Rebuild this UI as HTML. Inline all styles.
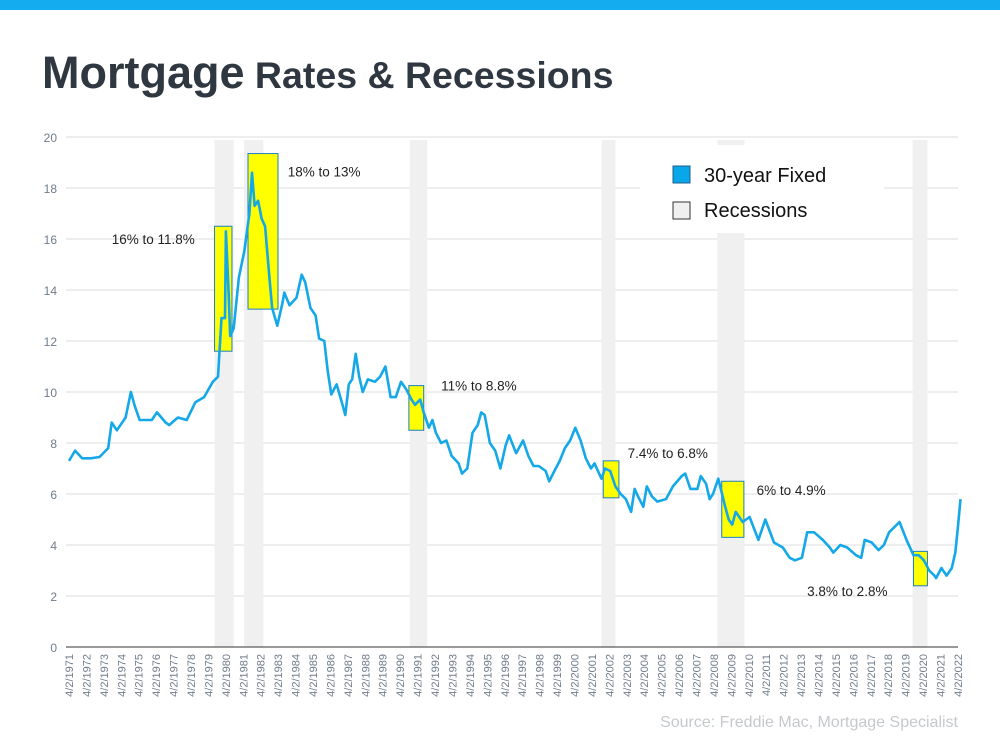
<!DOCTYPE html>
<html><head><meta charset="utf-8"><style>
body{margin:0;background:#fff;}
svg{display:block;font-family:"Liberation Sans",Arial,sans-serif;}
</style></head><body>
<svg width="1000" height="750" viewBox="0 0 1000 750">
<rect x="0" y="0" width="1000" height="10" fill="#14acee"/>
<text x="42" y="88" fill="#2f3741" font-weight="bold"><tspan font-size="45">Mortgage</tspan><tspan font-size="37.5"> Rates &amp; Recessions</tspan></text>
<g id="grid"></g><g id="bands"></g><g id="boxes"></g><g id="line"></g><g id="axes"></g><g id="labels"></g>
<g>
<rect x="640" y="145" width="244" height="88" fill="#fff"/>
<rect x="673" y="166" width="17" height="17" fill="#0aa6ea" stroke="#1f5f8a" stroke-width="1"/>
<text x="704" y="182" font-size="20" fill="#111">30-year Fixed</text>
<rect x="673" y="202" width="17" height="17" fill="#f0f0f0" stroke="#333" stroke-width="1"/>
<text x="704" y="217" font-size="20" fill="#111">Recessions</text>
</g>
<text x="958" y="727" font-size="16" fill="#c5c9cd" text-anchor="end">Source: Freddie Mac, Mortgage Specialist</text>
</svg>
<script>
const years=[1971,1972,1973,1974,1975,1976,1977,1978,1979,1980,1981,1982,1983,1984,1985,1986,1987,1988,1989,1990,1991,1992,1993,1994,1995,1996,1997,1998,1999,2000,2001,2002,2003,2004,2005,2006,2007,2008,2009,2010,2011,2012,2013,2014,2015,2016,2017,2018,2019,2020,2021,2022];
const yTicks=[0,2,4,6,8,10,12,14,16,18,20];
const rateT=[1971.25,1971.6,1972,1972.5,1973,1973.5,1973.7,1974,1974.5,1974.8,1975,1975.3,1976,1976.3,1976.8,1977,1977.5,1978,1978.5,1979,1979.5,1979.8,1980.0,1980.2,1980.25,1980.4,1980.5,1980.7,1981,1981.3,1981.6,1981.75,1981.9,1982.1,1982.3,1982.5,1982.75,1982.9,1983.2,1983.5,1983.6,1983.9,1984.3,1984.6,1984.8,1985.1,1985.4,1985.6,1985.9,1986.1,1986.3,1986.6,1986.9,1987.1,1987.3,1987.5,1987.7,1987.9,1988.1,1988.4,1988.8,1989.1,1989.4,1989.7,1990,1990.3,1990.6,1990.9,1991.1,1991.4,1991.6,1991.9,1992.1,1992.3,1992.6,1992.9,1993.2,1993.6,1993.8,1994.1,1994.4,1994.7,1994.9,1995.1,1995.4,1995.7,1996,1996.3,1996.5,1996.9,1997.3,1997.6,1997.9,1998.2,1998.6,1998.8,1999.1,1999.4,1999.7,2000.0,2000.3,2000.6,2000.9,2001.2,2001.4,2001.8,2002.0,2002.3,2002.6,2002.9,2003.2,2003.5,2003.7,2003.9,2004.2,2004.4,2004.7,2005.0,2005.5,2005.9,2006.4,2006.6,2006.9,2007.3,2007.5,2007.8,2008.0,2008.2,2008.5,2008.9,2009.1,2009.3,2009.5,2009.9,2010.3,2010.8,2011.2,2011.7,2012.2,2012.6,2012.9,2013.3,2013.6,2014.0,2014.5,2014.9,2015.1,2015.5,2015.9,2016.4,2016.7,2016.9,2017.3,2017.7,2018.0,2018.3,2018.9,2019.3,2019.7,2020.0,2020.3,2020.6,2020.9,2021.0,2021.3,2021.6,2021.9,2022.1,2022.25,2022.4];
const rateV=[7.3,7.7,7.4,7.4,7.45,7.8,8.8,8.5,9.0,10.0,9.5,8.9,8.9,9.2,8.8,8.7,9.0,8.9,9.6,9.8,10.4,10.6,12.9,12.9,16.3,14,12.2,12.5,14.5,15.5,17,18.6,17.3,17.5,16.8,16.5,14.5,13.3,12.6,13.5,13.9,13.4,13.7,14.6,14.3,13.3,13.0,12.1,12.0,10.8,9.9,10.3,9.6,9.1,10.3,10.5,11.5,10.6,10.0,10.5,10.4,10.6,11.0,9.8,9.8,10.4,10.1,9.7,9.5,9.7,9.2,8.6,8.9,8.4,8.0,8.1,7.5,7.2,6.8,7.0,8.4,8.7,9.2,9.1,8.0,7.7,7.0,7.9,8.3,7.6,8.1,7.5,7.1,7.1,6.9,6.5,6.9,7.3,7.8,8.1,8.6,8.1,7.4,7.0,7.2,6.6,7.0,6.9,6.3,6.0,5.8,5.3,6.2,5.9,5.5,6.3,5.9,5.7,5.8,6.3,6.7,6.8,6.2,6.2,6.7,6.4,5.8,6.0,6.6,5.5,5.0,4.8,5.3,4.9,5.1,4.2,5.0,4.1,3.9,3.5,3.4,3.5,4.5,4.5,4.2,3.9,3.7,4.0,3.9,3.6,3.5,4.2,4.1,3.8,4.0,4.5,4.9,4.2,3.6,3.6,3.4,3.0,2.8,2.7,3.1,2.8,3.1,3.7,4.7,5.8];
const recStart=[1979.6,1981.3,1990.8,2001.8,2008.45,2019.65];
const recEnd=[1980.7,1982.4,1991.8,2002.6,2010.0,2020.5];
const boxX0=[1979.6,1981.52,1990.75,2001.9,2008.7,2019.7];
const boxX1=[1980.6,1983.24,1991.6,2002.8,2009.97,2020.5];
const boxHi=[16.5,19.35,10.25,7.3,6.5,3.75];
const boxLo=[11.6,13.25,8.5,5.85,4.3,2.4];
const boxLabels=["16% to 11.8%","18% to 13%","11% to 8.8%","7.4% to 6.8%","6% to 4.9%","3.8% to 2.8%"];
const labelYr=[1973.7,1983.8,1992.6,2003.3,2010.7,2013.6];
const labelV=[16,18.65,10.25,7.6,6.15,2.2];

const NS="http://www.w3.org/2000/svg";
const X=t=>69+(t-1971.25)*17.43;
const Y=v=>647-v*25.5;
function mk(tag,attrs,parent){const e=document.createElementNS(NS,tag);for(const k in attrs)e.setAttribute(k,attrs[k]);document.getElementById(parent).appendChild(e);return e;}
yTicks.forEach(v=>{
  if(v>0){const g=mk('line',{x1:66,x2:958,y1:Y(v),y2:Y(v),stroke:'#dcdcdc','stroke-width':1},'grid');
  
  }
  const t=mk('text',{x:57,y:Y(v)+5,'font-size':12,fill:'#6f7c8a','text-anchor':'end'},'labels');t.textContent=v;
  
  
});
recStart.forEach((s,i)=>{
  const r=mk('rect',{x:X(s),y:140,width:X(recEnd[i])-X(s),height:507,fill:'#f0f0f0'},'bands');
  
  
});
boxX0.forEach((s,i)=>{
  const r=mk('rect',{x:X(s),y:Y(boxHi[i]),width:X(boxX1[i])-X(s),height:Y(boxLo[i])-Y(boxHi[i]),fill:'#ffff00',stroke:'#1a7fc0','stroke-width':1},'boxes');
  
  
  const t=mk('text',{x:X(labelYr[i]),y:Y(labelV[i])+5,'font-size':13.5,fill:'#222'},'labels');t.textContent=boxLabels[i];
  
  
});
const d=rateT.map((t,i)=>(i?'L':'M')+X(t).toFixed(1)+' '+Y(rateV[i]).toFixed(1)).join(' ');
const p=mk('path',{d:d,fill:'none',stroke:'#14a8e8','stroke-width':2.6,'stroke-linejoin':'round'},'line');


const ax=mk('line',{x1:66,x2:958,y1:647,y2:647,stroke:'#333','stroke-width':1},'axes');


years.forEach(yr=>{
  const x=X(yr+0.25)+4;
  const t=mk('text',{x:0,y:0,'font-size':11,fill:'#6f7c8a','text-anchor':'end',transform:`translate(${x},654) rotate(-90)`},'labels');
  t.textContent='4/2/'+yr;
  
  
});
</script>
</body></html>
